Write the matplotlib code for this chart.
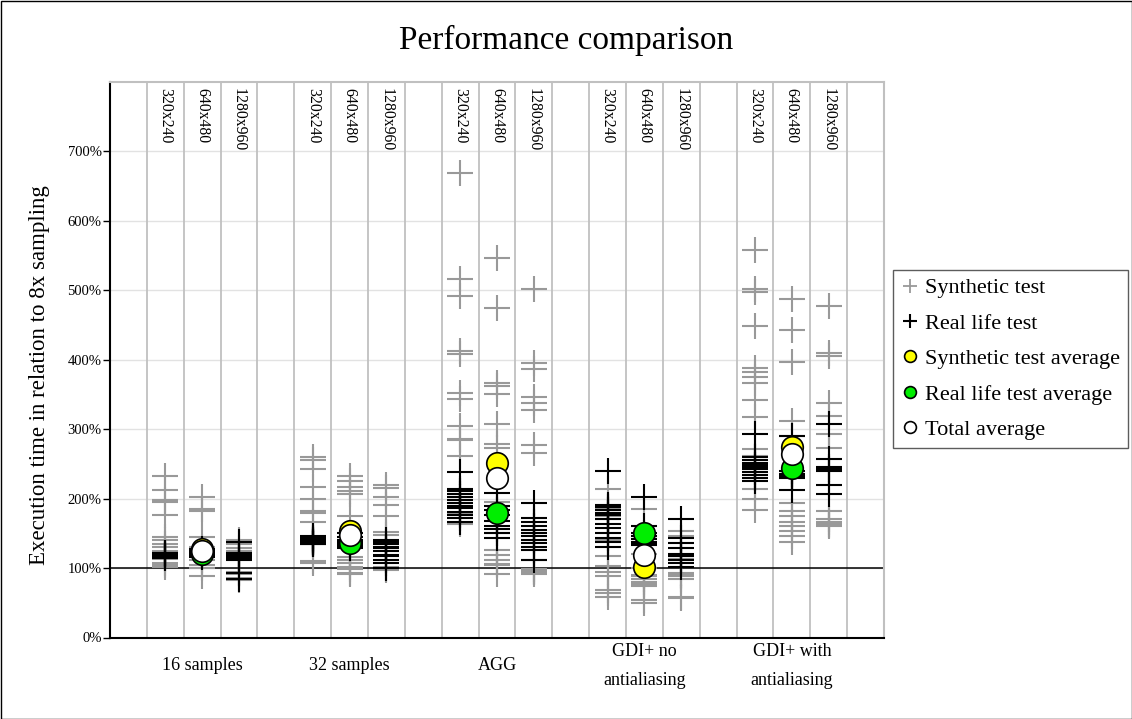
import matplotlib.pyplot as plt
from matplotlib.lines import Line2D
from matplotlib.patches import Rectangle

plt.rcParams['font.family'] = ['Liberation Serif', 'DejaVu Serif']

groups = ["16 samples", "32 samples", "AGG", "GDI+ no\nantialiasing", "GDI+ with\nantialiasing"]
resolutions = ["320x240", "640x480", "1280x960"]

# synthetic test results (% of 8x sampling), one list per resolution
synthetic_16 = [[232, 212, 198, 195, 177, 145, 141, 135, 130, 124, 113, 108, 104, 102],
                [203, 185, 182, 145, 130, 120, 112, 104, 100, 88],
                [140, 135, 129, 124, 95, 92, 85, 83]]
synthetic_32 = [[260, 256, 243, 217, 200, 182, 179, 167, 145, 140, 110, 107],
                [232, 225, 217, 211, 206, 175, 116, 112, 107, 102, 98, 93, 91],
                [219, 216, 203, 191, 175, 152, 148, 102, 99, 97]]
synthetic_agg = [[669, 516, 492, 413, 408, 352, 343, 304, 286, 284, 262, 178, 163],
                 [547, 474, 367, 362, 350, 307, 278, 273, 195, 150, 126, 119, 112, 106, 104, 92],
                 [502, 396, 387, 346, 337, 327, 277, 265, 112, 98, 96, 95, 94, 92]]
synthetic_gdi = [[214, 190, 185, 180, 175, 170, 140, 117, 103, 95, 88, 69, 64, 59],
                 [185, 135, 120, 100, 90, 88, 84, 80, 77, 74, 54, 50],
                 [153, 146, 118, 113, 93, 90, 88, 84, 59, 57]]
synthetic_gdiaa = [[558, 502, 498, 449, 388, 382, 375, 367, 342, 317, 271, 262, 214, 199, 184],
                   [487, 443, 397, 312, 290, 194, 182, 175, 167, 160, 153, 146, 138],
                   [477, 410, 405, 337, 319, 293, 273, 182, 170, 167, 164, 162, 160]]

# real life test results
real_16 = [[122, 121, 120, 119, 118, 117, 116, 115],
           [128, 126, 124, 122, 120, 118, 116],
           [138, 122, 119, 117, 114, 112, 93, 84]]
real_32 = [[146, 144, 142, 140, 139, 138, 137, 136, 135, 134],
           [150, 145, 140, 137, 135, 132, 129],
           [141, 137, 134, 131, 129, 124, 119, 117, 112, 107, 100]]
real_agg = [[238, 214, 211, 206, 202, 198, 194, 190, 186, 181, 176, 172, 166],
            [208, 190, 184, 176, 168, 160, 156, 150, 144],
            [193, 172, 166, 160, 155, 150, 146, 141, 136, 131, 126, 112]]
real_gdi = [[240, 191, 188, 184, 180, 176, 170, 164, 158, 151, 143, 137, 131],
            [203, 160, 150, 146, 142, 138, 135, 133],
            [170, 143, 136, 129, 120, 117, 112, 107, 102]]
real_gdiaa = [[293, 260, 256, 252, 248, 245, 242, 238, 234, 230, 225],
              [290, 240, 235, 233, 231, 229, 213],
              [307, 257, 245, 242, 240, 219, 206]]

synthetic_avg = [127, 153, 252, 102, 275]
real_avg = [120, 136, 179, 150, 244]
total_avg = [124, 147, 229, 119, 264]

synthetic = [synthetic_16, synthetic_32, synthetic_agg, synthetic_gdi, synthetic_gdiaa]
real = [real_16, real_32, real_agg, real_gdi, real_gdiaa]

GRAY = '#999999'

fig = plt.figure(figsize=(11.32, 7.19), dpi=100)
ax = fig.add_axes([110/1132, 81.5/719, 774/1132, 555.5/719])
ax.set_xlim(0, 21)
ax.set_ylim(0, 800)

# grid
for xv in range(1, 21):
    ax.axvline(xv, color='#c0c0c0', lw=1.3, zorder=1)
for yv in range(100, 800, 100):
    ax.axhline(yv, color='#e2e2e2', lw=1, zorder=0.5)
ax.axhline(100, color='black', lw=1.1, zorder=2)

for g in range(len(groups)):
    for r in range(3):
        x = 1 + 4*g + r + 0.5
        ys = synthetic[g][r]
        ax.plot([x]*len(ys), ys, ls='none', marker='+', ms=18.5, mew=1.5, color=GRAY, zorder=3)
        ys = real[g][r]
        ax.plot([x]*len(ys), ys, ls='none', marker='+', ms=18.5, mew=1.5, color='black', zorder=4)
        ax.text(x, 792, resolutions[r], rotation=-90, ha='center', va='top', fontsize=11.3)
    xm = 1 + 4*g + 1.5
    ax.plot(xm, synthetic_avg[g], 'o', ms=15.5, mfc='#ffff00', mec='black', mew=1.2, zorder=5)
    ax.plot(xm, real_avg[g], 'o', ms=15.5, mfc='#00ee00', mec='black', mew=1.2, zorder=6)
    ax.plot(xm, total_avg[g], 'o', ms=15.5, mfc='white', mec='black', mew=1.2, zorder=7)
    ax.text(xm, -0.0513, groups[g], transform=ax.get_xaxis_transform(), ha='center', va='center',
            fontsize=13, linespacing=1.95, multialignment='center')

ax.set_xticks([])
ax.set_yticks(range(0, 800, 100))
ax.set_yticklabels([f'{v}%' for v in range(0, 800, 100)])
ax.tick_params(axis='y', length=5, width=1, direction='out', labelsize=10.5, pad=1)
for s in ['left', 'bottom']:
    ax.spines[s].set_color('black')
    ax.spines[s].set_linewidth(1.5)
for s in ['top', 'right']:
    ax.spines[s].set_color('#c0c0c0')
    ax.spines[s].set_linewidth(1.5)

fig.text(566/1132, 1 - 40/719, "Performance comparison", ha='center', va='center', fontsize=24)
fig.text(40/1132, 1 - 375/719, "Execution time in relation to 8x sampling", rotation=90,
         ha='center', va='center', fontsize=16.5)

handles = [Line2D([], [], ls='none', marker='+', ms=10, mew=1.3, color=GRAY),
           Line2D([], [], ls='none', marker='+', ms=10, mew=1.5, color='black'),
           Line2D([], [], ls='none', marker='o', ms=8.5, mfc='#ffff00', mec='black', mew=1.2),
           Line2D([], [], ls='none', marker='o', ms=8.5, mfc='#00ee00', mec='black', mew=1.2),
           Line2D([], [], ls='none', marker='o', ms=8.5, mfc='white', mec='black', mew=1.2)]
labels = ["Synthetic test", "Real life test", "Synthetic test average",
          "Real life test average", "Total average"]
leg = fig.legend(handles, labels, loc='upper left', bbox_to_anchor=(893/1132, 1 - 270/719),
                 fontsize=16, frameon=True, fancybox=False, edgecolor='#333333',
                 handlelength=0.8, handletextpad=0.3, labelspacing=0.67, borderpad=0.35,
                 borderaxespad=0)
leg.get_frame().set_linewidth(1)

fig.add_artist(Rectangle((0.5/1132, 0.5/719), 1 - 1/1132, 1 - 1/719, transform=fig.transFigure,
                         fill=False, edgecolor='black', lw=1))

fig.savefig('out.png', dpi=100)
